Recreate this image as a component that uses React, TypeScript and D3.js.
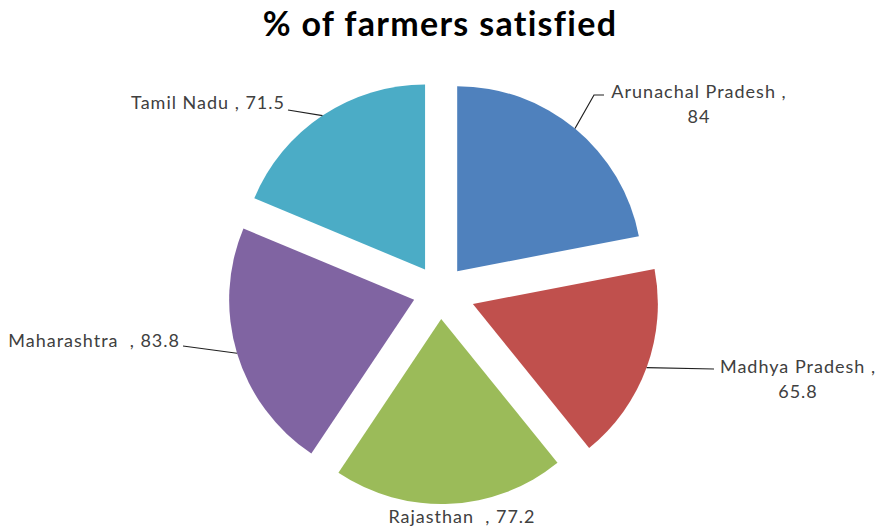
import React from "react";
import * as d3 from "d3";

const states = ["Arunachal Pradesh", "Madhya Pradesh", "Rajasthan", "Maharashtra", "Tamil Nadu"];
const values = [84, 65.8, 77.2, 83.8, 71.5];
const valueLabels = ["84", "65.8", "77.2", "83.8", "71.5"];
const colors = ["#4F81BD", "#C0504D", "#9BBB59", "#8064A2", "#4BACC6"];
const explodeBy = [27, 35, 27, 27, 27];

const W = 886, H = 529;
const cx = 440, cy = 292, R = 185;

// label layout: elbow points, text anchor, lines
const labelLayout = [
  { elbow: [[594, 95], [604, 95]], tx: 699, ty: 98, anchor: "middle", lines: [`${states[0]} ,`, valueLabels[0]] },
  { elbow: [[714, 369]], tx: 798, ty: 373, anchor: "middle", lines: [`${states[1]} ,`, valueLabels[1]] },
  { elbow: [], tx: 462, ty: 523, anchor: "middle", lines: [`${states[2]}  , ${valueLabels[2]}`] },
  { elbow: [[183, 346]], tx: 180, ty: 347, anchor: "end", lines: [`${states[3]}  , ${valueLabels[3]}`] },
  { elbow: [[288, 110]], tx: 285, ty: 109, anchor: "end", lines: [`${states[4]} , ${valueLabels[4]}`] },
];

export default function App() {
  const pie = d3.pie<number>().sort(null).value((d) => d).startAngle(0).endAngle(2 * Math.PI);
  const arcs = pie(values);
  const arc = d3.arc<d3.PieArcDatum<number>>().innerRadius(0).outerRadius(R);
  const font = "Lato, 'Open Sans', sans-serif";
  return (
    <svg width={W} height={H} style={{ position: "absolute", left: 0, top: 0, background: "#fff" }}>
      <text x={440} y={36} textAnchor="middle" fontFamily={font} fontWeight="bold" fontSize={34} letterSpacing={1.3} fill="#000">
        % of farmers satisfied
      </text>
      {arcs.map((a, i) => {
        const mid = (a.startAngle + a.endAngle) / 2;
        const d = explodeBy[i];
        const ox = cx + d * Math.sin(mid);
        const oy = cy - d * Math.cos(mid);
        const px = ox + R * Math.sin(mid);
        const py = oy - R * Math.cos(mid);
        const L = labelLayout[i];
        const pts = [[px, py], ...L.elbow];
        return (
          <g key={states[i]}>
            <path d={arc(a) || ""} transform={`translate(${ox},${oy})`} fill={colors[i]} />
            {pts.length > 1 && (
              <polyline points={pts.map((p) => p.join(",")).join(" ")} fill="none" stroke="#202020" strokeWidth={1.2} />
            )}
            <text x={L.tx} y={L.ty} textAnchor={L.anchor as any} fontFamily={font} fontSize={18} letterSpacing={1} fill="#404040" style={{ whiteSpace: "pre" }}>
              {L.lines.map((ln, j) => (
                <tspan key={j} x={L.tx} dy={j === 0 ? 0 : 25}>{ln}</tspan>
              ))}
            </text>
          </g>
        );
      })}
    </svg>
  );
}
